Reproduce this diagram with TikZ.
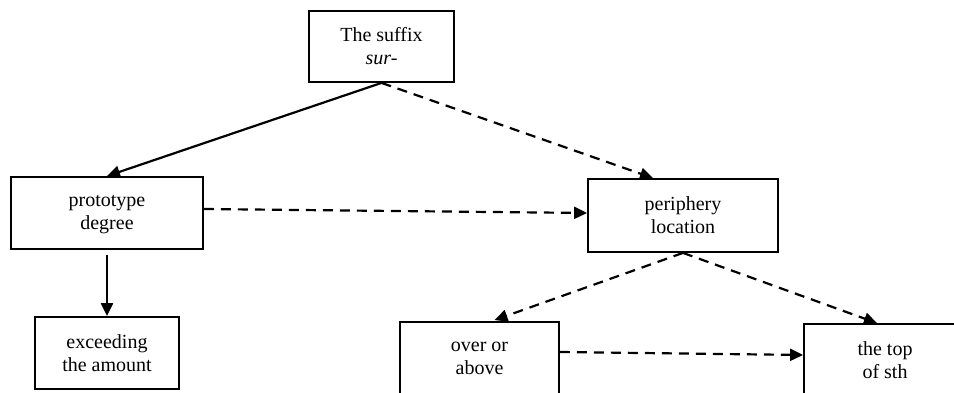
\documentclass[tikz,border=0pt]{standalone}
\usepackage{fontspec}
\setmainfont{Liberation Serif}
\usetikzlibrary{arrows.meta}
\begin{document}
\begin{tikzpicture}[x=1pt,y=1pt,
  box/.style={draw=black,line width=1.8pt,rectangle,align=center,inner sep=0pt,
    font=\fontsize{20}{23}\selectfont},
  solidarrow/.style={line width=2.2pt,-{Triangle[length=13pt,width=12pt]}},
  dasharrow/.style={line width=2.2pt,dash pattern=on 10pt off 7pt,-{Triangle[length=13pt,width=12pt]}}]
\clip (0,0) rectangle (954,-393);
\node[box,minimum width=145pt,minimum height=71pt] (top) at (381.5,-46.5) {The suffix\\\textit{sur-}};
\node[box,minimum width=192pt,minimum height=72pt] (proto) at (107,-213) {\raisebox{-6pt}{\begin{tabular}{@{}c@{}}prototype\\degree\end{tabular}}};
\node[box,minimum width=144pt,minimum height=72pt] (exceed) at (107,-353) {exceeding\\the amount};
\node[box,minimum width=190pt,minimum height=73pt] (periph) at (683,-215.5) {periphery\\location};
\node[box,minimum width=159pt,minimum height=72pt] (over) at (479.5,-358) {over or\\above};
\node[box,minimum width=162pt,minimum height=72pt] (topsth) at (885,-360) {the top\\of sth};
\draw[solidarrow] (top.south) -- (proto.north);
\draw[dasharrow] (top.south) -- ([xshift=-30pt]periph.north);
\draw[dasharrow] ([yshift=4pt]proto.east) -- ([yshift=2.5pt]periph.west);
\draw[solidarrow] ([yshift=-5pt]proto.south) -- (exceed.north);
\draw[dasharrow] (periph.south) -- ([xshift=15pt,yshift=1pt]over.north);
\draw[dasharrow] (periph.south) -- ([xshift=-8pt]topsth.north);
\draw[dasharrow] ([yshift=6pt]over.east) -- ([yshift=5pt]topsth.west);
\end{tikzpicture}
\end{document}
